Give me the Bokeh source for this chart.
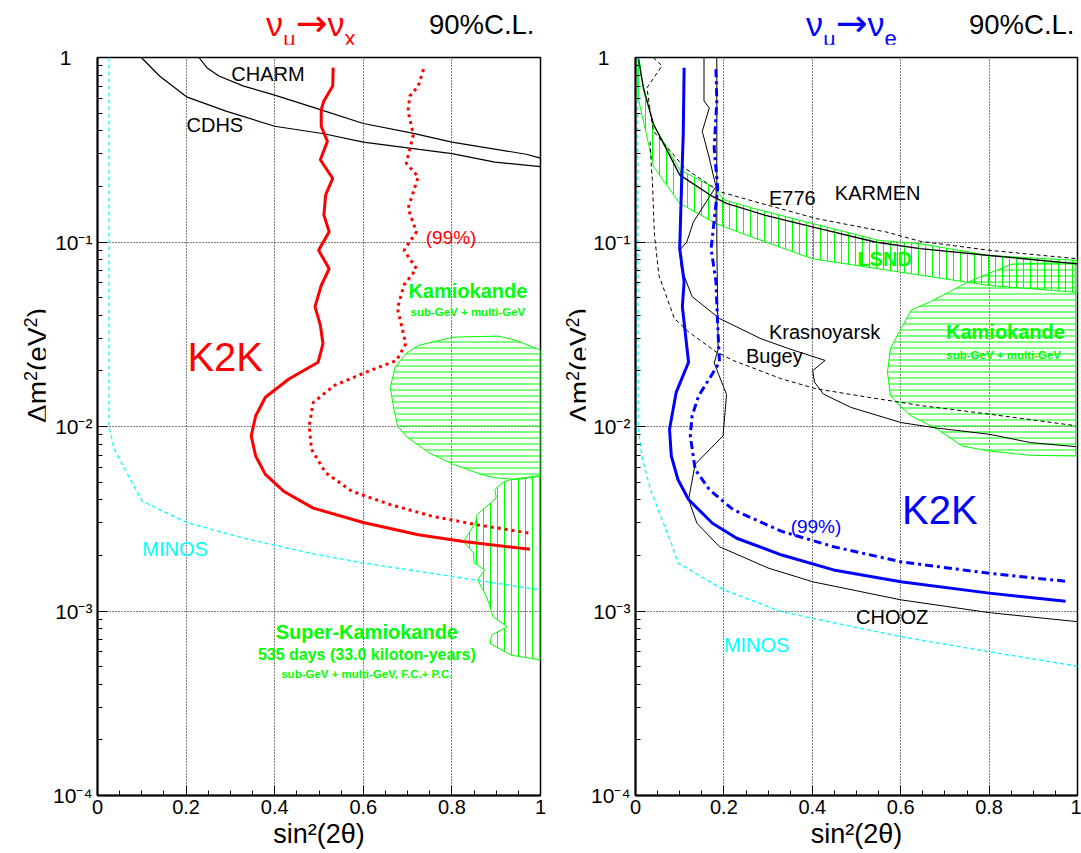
from bokeh.plotting import figure
from bokeh.models import Label, FixedTicker, LogTicker, CustomJSTickFormatter, Div
from bokeh.layouts import row, column
from bokeh.embed import file_html
from bokeh.resources import INLINE

# ---------------- data : x = sin^2(2theta), y = delta m^2 (eV^2) ----------------
# left panel  (numu -> nux)
charm_x = [0.229, 0.247, 0.274, 0.33, 0.40, 0.503, 0.60, 0.708, 0.80, 0.968, 1.0]
charm_y = [1.0, 0.881, 0.794, 0.700, 0.625, 0.522, 0.439, 0.390, 0.348, 0.299, 0.285]

cdhs_x = [0.099, 0.140, 0.201, 0.29, 0.40, 0.511, 0.60, 0.80, 0.897, 1.0]
cdhs_y = [1.0, 0.794, 0.612, 0.512, 0.424, 0.386, 0.348, 0.301, 0.271, 0.256]

k2k_x90_x = [0.532, 0.531, 0.511, 0.505, 0.505, 0.519, 0.503, 0.531, 0.515, 0.511, 0.523, 0.499,
             0.523, 0.505, 0.491, 0.503, 0.509, 0.498, 0.432, 0.379, 0.357, 0.347, 0.357, 0.379,
             0.42, 0.487, 0.60, 0.724, 0.826, 0.976]
k2k_x90_y = [0.881, 0.700, 0.581, 0.522, 0.424, 0.351, 0.279, 0.221, 0.180, 0.140, 0.1135, 0.0902,
             0.0716, 0.0581, 0.0446, 0.0354, 0.0281, 0.0223, 0.0181, 0.0144, 0.0114, 0.00889,
             0.00692, 0.00550, 0.00446, 0.00361, 0.00302, 0.00259, 0.00238, 0.00216]

k2k_x99_x = [0.736, 0.724, 0.705, 0.701, 0.713, 0.697, 0.724, 0.701, 0.72, 0.692, 0.72, 0.692,
             0.677, 0.696, 0.675, 0.606, 0.535, 0.487, 0.478, 0.483, 0.515, 0.574, 0.661, 0.756,
             0.858, 0.976]
k2k_x99_y = [0.863, 0.700, 0.618, 0.512, 0.382, 0.267, 0.226, 0.152, 0.1135, 0.0902, 0.0716,
             0.0585, 0.0437, 0.0281, 0.0228, 0.0197, 0.0167, 0.0135, 0.0101, 0.00752, 0.00561,
             0.00446, 0.00377, 0.00326, 0.00293, 0.00264]

minos_l_x = [0.026, 0.026, 0.038, 0.062, 0.101, 0.201, 0.33, 0.487, 0.60, 0.80, 1.0]
minos_l_y = [1.0, 0.01, 0.00752, 0.00585, 0.00394, 0.00302, 0.00248, 0.00204, 0.00182, 0.00154, 0.00130]

kam_l_x = [0.803, 0.905, 0.945, 1.0, 1.0, 0.945, 0.897, 0.866, 0.803, 0.748, 0.70, 0.678, 0.669,
           0.661, 0.672, 0.696, 0.724]
kam_l_y = [0.0305, 0.0309, 0.0293, 0.0259, 0.00537, 0.00516, 0.00527, 0.00550, 0.00624, 0.00721,
           0.00871, 0.0100, 0.01245, 0.0163, 0.0210, 0.0248, 0.0275]

sk_x = [0.933, 1.0, 1.0, 0.933, 0.886, 0.89, 0.925, 0.893, 0.878, 0.858, 0.874, 0.85, 0.849, 0.826,
        0.853, 0.857, 0.900, 0.897, 0.913]
sk_y = [0.00516, 0.00543, 0.000542, 0.000577, 0.000667, 0.000741, 0.000822, 0.000931, 0.00120,
        0.00147, 0.00167, 0.00182, 0.00206, 0.00238, 0.00299, 0.00333, 0.00410, 0.00455, 0.00495]

# right panel (numu -> nue)
lsnd_x = [0.008, 0.018, 0.041, 0.10, 0.175, 0.202, 0.268, 0.40, 0.55, 0.644, 0.80, 1.0,
          1.0, 0.80, 0.60, 0.40, 0.253, 0.182, 0.10, 0.041, 0.006, 0.003]
lsnd_y = [1.0, 0.658, 0.433, 0.246, 0.1995, 0.1687, 0.152, 0.1259, 0.1021, 0.0979, 0.0845, 0.0794,
          0.0533, 0.0581, 0.0686, 0.0811, 0.1086, 0.1259, 0.162, 0.256, 0.605, 1.0]

karmen_x = [0.006, 0.018, 0.041, 0.10, 0.175, 0.206, 0.292, 0.40, 0.542, 0.644, 0.80, 1.0]
karmen_y = [1.0, 0.686, 0.433, 0.231, 0.176, 0.162, 0.140, 0.1208, 0.100, 0.0920, 0.0845, 0.0762]

e776_x = [0.04, 0.06, 0.026, 0.035, 0.041, 0.08, 0.112, 0.19, 0.284, 0.409, 0.566, 0.644, 0.80, 1.0]
e776_y = [1.0, 0.902, 0.686, 0.479, 0.398, 0.309, 0.251, 0.1875, 0.162, 0.134, 0.1135, 0.1009,
          0.0902, 0.0811]

bugey_x = [0.033, 0.036, 0.038, 0.04, 0.043, 0.053, 0.088, 0.12, 0.182, 0.221, 0.331, 0.409, 0.527,
           0.644, 0.80, 0.996]
bugey_y = [0.35, 0.251, 0.221, 0.165, 0.1086, 0.0658, 0.0385, 0.0326, 0.0254, 0.0228, 0.0181,
           0.0160, 0.0144, 0.0130, 0.01167, 0.0101]

krasn_x = [0.155, 0.155, 0.167, 0.151, 0.167, 0.182, 0.131, 0.116, 0.10, 0.104, 0.128, 0.19, 0.284,
           0.347, 0.429, 0.401, 0.405, 0.425, 0.487, 0.601, 0.683, 0.80, 0.894, 0.996]
krasn_y = [1.0, 0.581, 0.533, 0.398, 0.285, 0.1995, 0.1285, 0.100, 0.0902, 0.0716, 0.0506, 0.0385,
           0.0299, 0.0264, 0.0228, 0.0201, 0.0174, 0.0150, 0.0127, 0.0105, 0.0098, 0.00908,
           0.00818, 0.00778]

chooz_x = [0.184, 0.184, 0.186, 0.187, 0.178, 0.206, 0.198, 0.135, 0.12, 0.139, 0.19, 0.30, 0.401,
           0.60, 0.80, 1.0]
chooz_y = [1.0, 0.1, 0.0398, 0.0262, 0.0221, 0.0149, 0.00889, 0.00624, 0.00402, 0.00299, 0.00223,
           0.00171, 0.00144, 0.00115, 0.00098, 0.000875]

k2k_e90_x = [0.110, 0.108, 0.104, 0.10, 0.110, 0.106, 0.12, 0.092, 0.077, 0.081, 0.096, 0.12,
             0.174, 0.229, 0.331, 0.448, 0.60, 0.80, 0.973]
k2k_e90_y = [0.881, 0.382, 0.1954, 0.0920, 0.0610, 0.0446, 0.0223, 0.0153, 0.00966, 0.00692,
             0.00516, 0.00402, 0.00299, 0.00248, 0.00201, 0.00167, 0.00144, 0.00125, 0.00113]

k2k_e99_x = [0.182, 0.184, 0.178, 0.186, 0.171, 0.182, 0.186, 0.19, 0.174, 0.143, 0.128, 0.124,
             0.135, 0.167, 0.221, 0.331, 0.448, 0.60, 0.80, 0.973]
k2k_e99_y = [0.863, 0.581, 0.323, 0.1954, 0.0920, 0.0610, 0.0354, 0.0223, 0.0193, 0.0147, 0.0114,
             0.00889, 0.00585, 0.00455, 0.00354, 0.00270, 0.00223, 0.00185, 0.00160, 0.00145]

minos_r_x = [0.005, 0.006, 0.014, 0.034, 0.057, 0.081, 0.096, 0.20, 0.331, 0.401, 0.60, 0.80, 1.0]
minos_r_y = [1.0, 0.01, 0.00692, 0.00455, 0.00326, 0.00233, 0.00182, 0.00130, 0.000991, 0.000912,
             0.000726, 0.000601, 0.000502]

kam_r_x = [0.851, 0.996, 0.996, 0.894, 0.80, 0.738, 0.683, 0.624, 0.597, 0.577, 0.57, 0.577, 0.597,
           0.624, 0.667, 0.754]
kam_r_y = [0.0759, 0.0776, 0.00692, 0.00698, 0.00736, 0.00785, 0.00966, 0.0114, 0.0130, 0.0147,
           0.0197, 0.0264, 0.0326, 0.0428, 0.0474, 0.0610]

x_ticks = [0, 0.2, 0.4, 0.6, 0.8, 1.0]
x_minor = [0.05, 0.1, 0.15, 0.25, 0.3, 0.35, 0.45, 0.5, 0.55, 0.65, 0.7, 0.75, 0.85, 0.9, 0.95]
y_tick_labels = {"0": "1\u2003", "-1": "10\u207b\u00b9", "-2": "10\u207b\u00b2",
                 "-3": "10\u207b\u00b3", "-4": "10\u207b\u2074"}

# ---------------- styling ----------------
FONT = "Liberation Sans"
GREEN = "#00ff00"
CYAN = "#00ffff"
RED = "#ff0000"
BLUE = "#0000ff"
FIG_H = 807
HDR_H = 44


def lab(p, x, y, text, size, color="black", bold=False, align="left", baseline="middle"):
    p.add_layout(Label(x=x, y=y, text=text, text_font=FONT, text_font_size=f"{size}px",
                       text_color=color, text_font_style="bold" if bold else "normal",
                       text_align=align, text_baseline=baseline))


def make_fig(width, left, right):
    p = figure(width=width, height=FIG_H, x_range=(0, 1), y_range=(1e-4, 1), y_axis_type="log",
               output_backend="svg", toolbar_location=None,
               min_border_left=left, min_border_right=right, min_border_top=13, min_border_bottom=40)
    p.background_fill_color = "white"
    p.border_fill_color = "white"
    p.outline_line_color = "black"
    p.outline_line_width = 1.5
    p.xaxis.ticker = FixedTicker(ticks=x_ticks, minor_ticks=x_minor)
    p.xaxis.formatter = CustomJSTickFormatter(
        code="var s = tick.toFixed(1); return (s=='0.0'||s=='1.0') ? s.slice(0,1) : s;")
    p.yaxis.ticker = LogTicker(num_minor_ticks=10)
    p.yaxis.formatter = CustomJSTickFormatter(
        args=dict(labels=y_tick_labels),
        code="var e = Math.round(Math.log10(tick)); return labels[String(e)] || '';")
    for ax in (p.xaxis, p.yaxis):
        ax.axis_line_width = 2
        ax.axis_line_color = "black"
        ax.major_tick_in = 10
        ax.major_tick_out = 0
        ax.minor_tick_in = 5
        ax.minor_tick_out = 0
        ax.major_tick_line_color = "black"
        ax.minor_tick_line_color = "black"
        ax.major_label_text_font = FONT
        ax.major_label_text_color = "black"
    p.xaxis.major_label_text_font_size = "20px"
    p.xaxis.major_label_standoff = 4
    p.yaxis.major_label_text_font_size = "21px"
    p.yaxis.major_label_standoff = 5
    p.xaxis.axis_label = "sin²(2θ)"
    p.xaxis.axis_label_text_font = FONT
    p.xaxis.axis_label_text_font_size = "27px"
    p.xaxis.axis_label_text_font_style = "normal"
    p.xaxis.axis_label_text_color = "black"
    p.xaxis.axis_label_standoff = 2
    for g in (p.xgrid, p.ygrid):
        g.grid_line_color = "black"
        g.grid_line_dash = "1 2"
        g.grid_line_width = 1
        g.grid_line_alpha = 1
    return p


def header(width, left, color, sub):
    html = (
        f'<div style="position:relative;width:{width}px;height:{HDR_H}px;font-family:\'{FONT}\';">'
        f'<span style="position:absolute;left:{left}px;top:3px;font-size:34px;line-height:40px;'
        f'color:{color};white-space:nowrap;">&nu;'
        f'<span style="font-family:\'DejaVu Sans\';font-size:20px;vertical-align:-10px;">&mu;</span>'
        f'<span style="font-family:\'DejaVu Sans\';font-size:38px;">&rarr;</span>&nu;'
        f'<span style="font-size:22px;vertical-align:-10px;">{sub}</span></span>'
        f'<span style="position:absolute;left:{left + 163}px;top:5px;font-size:27.5px;line-height:40px;'
        f'color:black;white-space:nowrap;">90%C.L.</span></div>'
    )
    return Div(text=html, width=width, height=HDR_H, margin=(0, 0, 0, 0), styles={"overflow": "visible"})


def ylabel(width, left):
    html = (
        f'<div style="position:relative;width:{width}px;height:{FIG_H}px;font-family:\'{FONT}\';">'
        f'<div style="position:absolute;left:{left}px;top:{423 - HDR_H}px;transform:rotate(-90deg);'
        f'transform-origin:left top;font-size:28px;line-height:30px;white-space:nowrap;color:black;">'
        f'&Delta;m<sup style="font-size:18px;">2</sup>(eV<sup style="font-size:18px;">2</sup>)</div></div>'
    )
    return Div(text=html, width=width, height=FIG_H, margin=(0, 0, 0, 0), styles={"overflow": "visible"})


# ---------------- left panel ----------------
p1 = make_fig(505, 52, 10)
p1.patch(kam_l_x, kam_l_y, fill_color=None, line_color=GREEN, line_width=1,
         hatch_pattern="horizontal_line", hatch_color=GREEN, hatch_scale=6, hatch_weight=1)
p1.patch(sk_x, sk_y, fill_color=None, line_color=GREEN, line_width=1,
         hatch_pattern="vertical_line", hatch_color=GREEN, hatch_scale=7, hatch_weight=1)
p1.line(charm_x, charm_y, line_color="black", line_width=1.2)
p1.line(cdhs_x, cdhs_y, line_color="black", line_width=1.2)
p1.line(minos_l_x, minos_l_y, line_color=CYAN, line_width=1.3, line_dash="4 3")
p1.line(k2k_x99_x, k2k_x99_y, line_color=RED, line_width=3, line_dash="3 4")
p1.line(k2k_x90_x, k2k_x90_y, line_color=RED, line_width=3)
lab(p1, 0.302, 0.813, "CHARM", 20)
lab(p1, 0.201, 0.433, "CDHS", 20)
lab(p1, 0.741, 0.1064, "(99%)", 19, RED)
lab(p1, 0.836, 0.0543, "Kamiokande", 20, GREEN, bold=True, align="center")
lab(p1, 0.836, 0.0419, "sub-GeV + multi-GeV", 11.5, GREEN, bold=True, align="center")
lab(p1, 0.203, 0.0238, "K2K", 40, RED)
lab(p1, 0.101, 0.00217, "MINOS", 20, CYAN)
lab(p1, 0.608, 0.000766, "Super-Kamiokande", 20, GREEN, bold=True, align="center")
lab(p1, 0.608, 0.000583, "535 days (33.0 kiloton-years)", 16, GREEN, bold=True, align="center")
lab(p1, 0.608, 0.000455, "sub-GeV + multi-GeV, F.C.+ P.C.", 11.5, GREEN, bold=True, align="center")

# ---------------- right panel ----------------
p2 = make_fig(496, 50, 4)
p2.patch(kam_r_x, kam_r_y, fill_color=None, line_color=GREEN, line_width=1,
         hatch_pattern="horizontal_line", hatch_color=GREEN, hatch_scale=6, hatch_weight=1)
p2.patch(lsnd_x, lsnd_y, fill_color=None, line_color=GREEN, line_width=1,
         hatch_pattern="vertical_line", hatch_color=GREEN, hatch_scale=7, hatch_weight=1)
p2.line(karmen_x, karmen_y, line_color="black", line_width=1.3)
p2.line(e776_x, e776_y, line_color="black", line_width=1, line_dash="4 3")
p2.line(bugey_x, bugey_y, line_color="black", line_width=1, line_dash="4 3")
p2.line(krasn_x, krasn_y, line_color="black", line_width=1)
p2.line(chooz_x, chooz_y, line_color="black", line_width=1)
p2.line(minos_r_x, minos_r_y, line_color=CYAN, line_width=1.3, line_dash="4 3")
p2.line(k2k_e99_x, k2k_e99_y, line_color=BLUE, line_width=3, line_dash="8 4 3 4")
p2.line(k2k_e90_x, k2k_e90_y, line_color=BLUE, line_width=3)
lab(p2, 0.302, 0.174, "E776", 20)
lab(p2, 0.451, 0.185, "KARMEN", 20)
lab(p2, 0.502, 0.0811, "LSND", 20, GREEN, bold=True)
lab(p2, 0.302, 0.0326, "Krasnoyarsk", 20)
lab(p2, 0.25, 0.0241, "Bugey", 20)
lab(p2, 0.837, 0.0326, "Kamiokande", 20, GREEN, bold=True, align="center")
lab(p2, 0.833, 0.0243, "sub-GeV + multi-GeV", 11.5, GREEN, bold=True, align="center")
lab(p2, 0.603, 0.00354, "K2K", 40, BLUE)
lab(p2, 0.351, 0.00287, "(99%)", 19, BLUE)
lab(p2, 0.499, 0.000925, "CHOOZ", 20)
lab(p2, 0.2, 0.000653, "MINOS", 20, CYAN)

hdr = row(header(550, 266, RED, "x"), header(531, 256, BLUE, "e"), spacing=0)
body = row(ylabel(45, 16), p1, ylabel(35, 8), p2, spacing=0)
layout = column(hdr, body, spacing=0)
open("out.html", "w").write(file_html(layout, INLINE))
